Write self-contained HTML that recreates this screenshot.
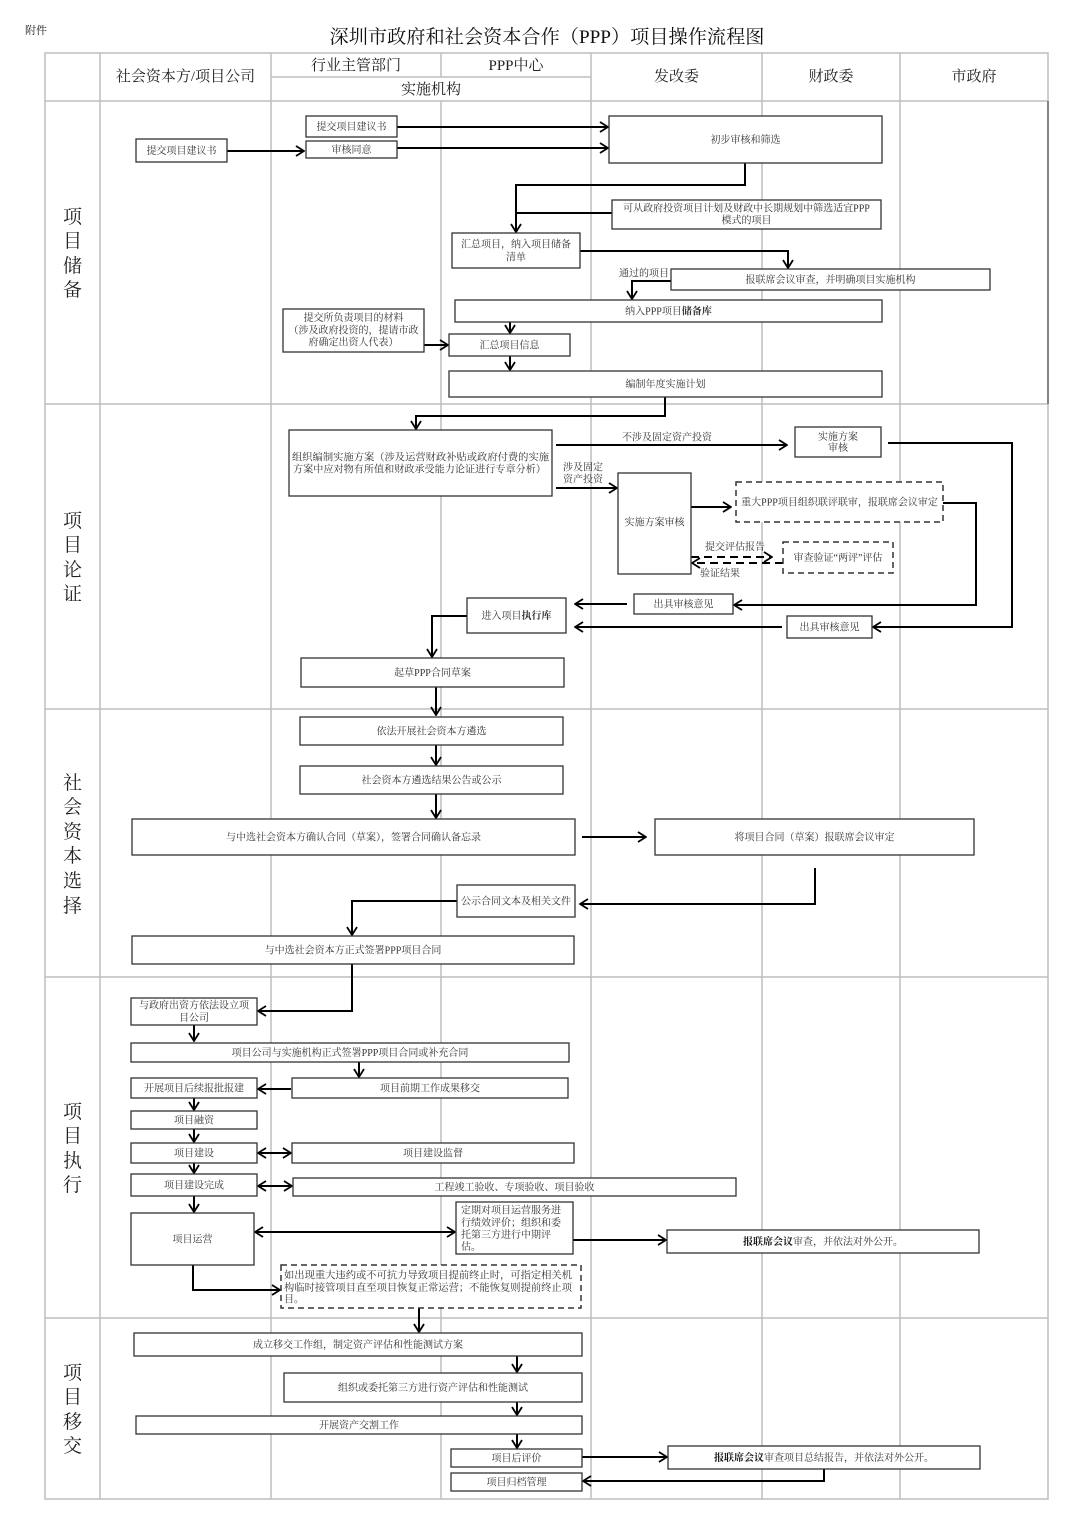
<!DOCTYPE html>
<html>
<head>
<meta charset="utf-8">
<style>
html,body{margin:0;padding:0;background:#fff;}
svg{display:block;}
.g{stroke:#bdbdbd;stroke-width:1.5;fill:none;}
.b{fill:#fff;stroke:#333;stroke-width:1.3;}
.d{fill:#fff;stroke:#333;stroke-width:1.5;stroke-dasharray:6 4;}
.c{fill:none;stroke:#000;stroke-width:2;marker-end:url(#a);}
.cd{fill:none;stroke:#000;stroke-width:2;stroke-dasharray:8 5;marker-end:url(#a);}
.c2{fill:none;stroke:#000;stroke-width:2;marker-end:url(#a);marker-start:url(#a);}
.l{fill:none;stroke:#000;stroke-width:2;}
text{font-family:"Liberation Serif","Noto Serif CJK SC",serif;}
.t{font-size:10px;fill:#333;}
.tm{font-size:10px;fill:#333;text-anchor:middle;}
.h{font-size:15px;fill:#222;text-anchor:middle;}
.v{font-size:19px;fill:#222;text-anchor:middle;}
</style>
</head>
<body>
<svg xmlns="http://www.w3.org/2000/svg" width="1080" height="1527" viewBox="0 0 1080 1527">
<defs>
<marker id="a" viewBox="0 0 10 12" refX="9" refY="6" markerWidth="10" markerHeight="12" markerUnits="userSpaceOnUse" orient="auto-start-reverse">
<path d="M1,1 L9,6 L1,11" fill="none" stroke="#000" stroke-width="1.8"/>
</marker>
</defs>

<!-- top text -->
<text x="25" y="34" font-size="11" fill="#222">附件</text>
<text x="547" y="43" font-size="19" fill="#111" text-anchor="middle" textLength="435" lengthAdjust="spacingAndGlyphs">深圳市政府和社会资本合作（PPP）项目操作流程图</text>

<!-- grid -->
<rect class="g" x="45" y="53" width="1003" height="1446"/>
<line class="g" x1="45" y1="101" x2="1048" y2="101"/>
<line class="g" x1="45" y1="404" x2="1048" y2="404"/>
<line class="g" x1="45" y1="709" x2="1048" y2="709"/>
<line class="g" x1="45" y1="977" x2="1048" y2="977"/>
<line class="g" x1="45" y1="1318" x2="1048" y2="1318"/>
<line class="g" x1="271" y1="77" x2="591" y2="77"/>
<line class="g" x1="100" y1="53" x2="100" y2="1499"/>
<line class="g" x1="271" y1="53" x2="271" y2="1499"/>
<line class="g" x1="441" y1="53" x2="441" y2="77"/>
<line class="g" x1="441" y1="101" x2="441" y2="1499"/>
<line class="g" x1="591" y1="53" x2="591" y2="1499"/>
<line class="g" x1="762" y1="53" x2="762" y2="1499"/>
<line class="g" x1="900" y1="53" x2="900" y2="1499"/>
<line x1="1048" y1="101" x2="1048" y2="404" stroke="#666" stroke-width="1.5"/>

<!-- header -->
<text class="h" x="185.5" y="81">社会资本方/项目公司</text>
<text class="h" x="356" y="70">行业主管部门</text>
<text class="h" x="516" y="70">PPP中心</text>
<text class="h" x="431" y="94">实施机构</text>
<text class="h" x="676.5" y="81">发改委</text>
<text class="h" x="831" y="81">财政委</text>
<text class="h" x="974" y="81">市政府</text>

<!-- left labels -->
<text class="v" x="72.5" y="223">项</text><text class="v" x="72.5" y="247">目</text><text class="v" x="72.5" y="272">储</text><text class="v" x="72.5" y="296">备</text>
<text class="v" x="72.5" y="527">项</text><text class="v" x="72.5" y="551">目</text><text class="v" x="72.5" y="576">论</text><text class="v" x="72.5" y="600">证</text>
<text class="v" x="72.5" y="789">社</text><text class="v" x="72.5" y="813">会</text><text class="v" x="72.5" y="838">资</text><text class="v" x="72.5" y="862">本</text><text class="v" x="72.5" y="887">选</text><text class="v" x="72.5" y="912">择</text>
<text class="v" x="72.5" y="1118">项</text><text class="v" x="72.5" y="1142">目</text><text class="v" x="72.5" y="1167">执</text><text class="v" x="72.5" y="1191">行</text>
<text class="v" x="72.5" y="1379">项</text><text class="v" x="72.5" y="1403">目</text><text class="v" x="72.5" y="1428">移</text><text class="v" x="72.5" y="1452">交</text>

<!-- ===== Section 1 ===== -->
<path class="c" d="M227,151 H304"/>
<path class="c" d="M397,127 H608"/>
<path class="c" d="M397,148 H608"/>
<path class="c" d="M745,163 V185 H516 V232"/>
<path class="l" d="M612,213 H516"/>
<path class="c" d="M580,251 H788 V268"/>
<path class="c" d="M671,281 H632 V299"/>
<path class="c" d="M510,322 V333"/>
<path class="c" d="M424,345 H448"/>
<path class="c" d="M510,356 V370"/>
<path class="c" d="M665,397 V416 H416 V429"/>

<rect class="b" x="136" y="139" width="91" height="23"/>
<text class="tm" x="181.5" y="154">提交项目建议书</text>
<rect class="b" x="306" y="116" width="91" height="21"/>
<text class="tm" x="351.5" y="130">提交项目建议书</text>
<rect class="b" x="306" y="141" width="91" height="17"/>
<text class="tm" x="351.5" y="153">审核同意</text>
<rect class="b" x="609" y="116" width="273" height="47"/>
<text class="tm" x="745.5" y="143">初步审核和筛选</text>
<rect class="b" x="612" y="200" width="269" height="29"/>
<text class="tm" x="746.5" y="211.5">可从政府投资项目计划及财政中长期规划中筛选适宜PPP</text>
<text class="tm" x="746.5" y="223.5">模式的项目</text>
<rect class="b" x="452" y="233" width="128" height="35"/>
<text class="tm" x="516" y="247.5">汇总项目，纳入项目储备</text>
<text class="tm" x="516" y="260.5">清单</text>
<rect class="b" x="671" y="269" width="319" height="21"/>
<text class="tm" x="830.5" y="283">报联席会议审查，并明确项目实施机构</text>
<text class="tm" x="644" y="276.5">通过的项目</text>
<rect class="b" x="455" y="300" width="427" height="22"/>
<text class="tm" x="668.5" y="314.5">纳入PPP项目<tspan font-weight="bold">储备库</tspan></text>
<rect class="b" x="283" y="309" width="141" height="43"/>
<text class="tm" x="353.5" y="321">提交所负责项目的材料</text>
<text class="tm" x="353.5" y="333.5">（涉及政府投资的，提请市政</text>
<text class="tm" x="353.5" y="345.5">府确定出资人代表）</text>
<rect class="b" x="449" y="334" width="121" height="22"/>
<text class="tm" x="509.5" y="348.5">汇总项目信息</text>
<rect class="b" x="449" y="371" width="433" height="26"/>
<text class="tm" x="665.5" y="387.5">编制年度实施计划</text>

<!-- ===== Section 2 ===== -->
<path class="c" d="M556,445 H787"/>
<path class="c" d="M888,443 H1012 V627 H873"/>
<path class="c" d="M556,488 H617"/>
<path class="c" d="M691,507 H731"/>
<path class="c" d="M943,503 H976 V605 H734"/>
<path class="cd" d="M691,557 H772"/>
<path class="cd" d="M783,563 H692"/>
<path class="c" d="M627,604 H575"/>
<path class="c" d="M782,627 H575"/>
<path class="c" d="M467,616 H432 V657"/>
<path class="c" d="M436,687 V715"/>

<rect class="b" x="289" y="430" width="263" height="66"/>
<text class="t" x="292" y="460.5" textLength="257" lengthAdjust="spacingAndGlyphs">组织编制实施方案（涉及运营财政补贴或政府付费的实施</text>
<text class="t" x="293" y="472.5" textLength="253" lengthAdjust="spacingAndGlyphs">方案中应对物有所值和财政承受能力论证进行专章分析）</text>
<text class="tm" x="667" y="440.5">不涉及固定资产投资</text>
<rect class="b" x="795" y="427" width="86" height="30"/>
<text class="tm" x="838" y="440">实施方案</text>
<text class="tm" x="838" y="451">审核</text>
<text class="t" x="563" y="470.5">涉及固定</text>
<text class="t" x="563" y="482.5">资产投资</text>
<rect class="b" x="618" y="473" width="73" height="101"/>
<text class="tm" x="654.5" y="525.5">实施方案审核</text>
<rect class="d" x="736" y="482" width="207" height="40"/>
<text class="tm" x="839.5" y="505.5">重大PPP项目组织联评联审，报联席会议审定</text>
<text class="tm" x="735" y="550">提交评估报告</text>
<text class="tm" x="720" y="576.5">验证结果</text>
<rect class="d" x="783" y="542" width="110" height="31"/>
<text class="tm" x="838" y="561">审查验证“两评”评估</text>
<rect class="b" x="634" y="594" width="99" height="20"/>
<text class="tm" x="683.5" y="607.5">出具审核意见</text>
<rect class="b" x="787" y="616" width="85" height="22"/>
<text class="tm" x="829.5" y="630.5">出具审核意见</text>
<rect class="b" x="467" y="598" width="99" height="35"/>
<text class="tm" x="516.5" y="619">进入项目<tspan font-weight="bold">执行库</tspan></text>
<rect class="b" x="301" y="658" width="263" height="29"/>
<text class="tm" x="432.5" y="676">起草PPP合同草案</text>

<!-- ===== Section 3 ===== -->
<path class="c" d="M436,745 V765"/>
<path class="c" d="M436,794 V818"/>
<path class="c" d="M582,837 H646"/>
<path class="c" d="M815,868 V904 H580"/>
<path class="c" d="M457,901 H352 V935"/>
<path class="c" d="M352,964 V1011 H258"/>

<rect class="b" x="300" y="717" width="263" height="28"/>
<text class="tm" x="431.5" y="734.5">依法开展社会资本方遴选</text>
<rect class="b" x="300" y="766" width="263" height="28"/>
<text class="tm" x="431.5" y="783.5">社会资本方遴选结果公告或公示</text>
<rect class="b" x="132" y="819" width="443" height="36"/>
<text class="tm" x="353.5" y="840.5">与中选社会资本方确认合同（草案），签署合同确认备忘录</text>
<rect class="b" x="655" y="819" width="319" height="36"/>
<text class="tm" x="814.5" y="840.5">将项目合同（草案）报联席会议审定</text>
<rect class="b" x="457" y="885" width="118" height="32"/>
<text class="tm" x="516" y="904.5">公示合同文本及相关文件</text>
<rect class="b" x="132" y="936" width="442" height="28"/>
<text class="tm" x="353" y="953.5">与中选社会资本方正式签署PPP项目合同</text>

<!-- ===== Section 4 ===== -->
<path class="c" d="M194,1025 V1041"/>
<path class="c" d="M359,1062 V1077"/>
<path class="c" d="M291,1089 H258"/>
<path class="c" d="M194,1098 V1110"/>
<path class="c" d="M194,1129 V1142"/>
<path class="c2" d="M258,1153 H291"/>
<path class="c" d="M194,1163 V1173"/>
<path class="c2" d="M258,1186 H292"/>
<path class="c" d="M194,1196 V1212"/>
<path class="c2" d="M255,1232 H455"/>
<path class="c" d="M573,1240 H666"/>
<path class="c" d="M193,1265 V1290 H280"/>
<path class="c" d="M419,1308 V1332"/>

<rect class="b" x="131" y="998" width="126" height="27"/>
<text class="tm" x="194" y="1008.5">与政府出资方依法设立项</text>
<text class="tm" x="194" y="1021">目公司</text>
<rect class="b" x="131" y="1043" width="438" height="19"/>
<text class="tm" x="350" y="1056">项目公司与实施机构正式签署PPP项目合同或补充合同</text>
<rect class="b" x="131" y="1078" width="126" height="20"/>
<text class="tm" x="194" y="1091.5">开展项目后续报批报建</text>
<rect class="b" x="292" y="1078" width="276" height="20"/>
<text class="tm" x="430" y="1091.5">项目前期工作成果移交</text>
<rect class="b" x="131" y="1111" width="126" height="18"/>
<text class="tm" x="194" y="1123.5">项目融资</text>
<rect class="b" x="131" y="1143" width="126" height="20"/>
<text class="tm" x="194" y="1156.5">项目建设</text>
<rect class="b" x="292" y="1143" width="282" height="20"/>
<text class="tm" x="433" y="1156.5">项目建设监督</text>
<rect class="b" x="131" y="1174" width="126" height="22"/>
<text class="tm" x="194" y="1188.5">项目建设完成</text>
<rect class="b" x="293" y="1178" width="443" height="18"/>
<text class="tm" x="514.5" y="1190.5">工程竣工验收、专项验收、项目验收</text>
<rect class="b" x="131" y="1213" width="123" height="52"/>
<text class="tm" x="192.5" y="1242.5">项目运营</text>
<rect class="b" x="456" y="1202" width="117" height="52"/>
<text class="t" x="461" y="1213.5">定期对项目运营服务进</text>
<text class="t" x="461" y="1225.8">行绩效评价；组织和委</text>
<text class="t" x="461" y="1237.8">托第三方进行中期评</text>
<text class="t" x="461" y="1250">估。</text>
<rect class="b" x="667" y="1230" width="312" height="23"/>
<text class="tm" x="823" y="1245"><tspan font-weight="bold" fill="#111">报联席会议</tspan>审查，并依法对外公开。</text>
<rect class="d" x="281" y="1265" width="300" height="43"/>
<text class="t" x="284" y="1278.5" textLength="288" lengthAdjust="spacingAndGlyphs">如出现重大违约或不可抗力导致项目提前终止时，可指定相关机</text>
<text class="t" x="284" y="1291" textLength="288" lengthAdjust="spacingAndGlyphs">构临时接管项目直至项目恢复正常运营；不能恢复则提前终止项</text>
<text class="t" x="284" y="1302.5">目。</text>

<!-- ===== Section 5 ===== -->
<path class="c" d="M517,1356 V1372"/>
<path class="c" d="M517,1402 V1415"/>
<path class="c" d="M517,1434 V1448"/>
<path class="c" d="M582,1457 H667"/>
<path class="c" d="M824,1469 V1481 H583"/>

<rect class="b" x="134" y="1333" width="448" height="23"/>
<text class="tm" x="358" y="1348">成立移交工作组，制定资产评估和性能测试方案</text>
<rect class="b" x="284" y="1373" width="298" height="29"/>
<text class="tm" x="433" y="1391">组织或委托第三方进行资产评估和性能测试</text>
<rect class="b" x="136" y="1416" width="446" height="18"/>
<text class="tm" x="359" y="1428.5">开展资产交割工作</text>
<rect class="b" x="451" y="1449" width="131" height="18"/>
<text class="tm" x="516.5" y="1461.5">项目后评价</text>
<rect class="b" x="668" y="1446" width="312" height="23"/>
<text class="tm" x="824" y="1461"><tspan font-weight="bold" fill="#111">报联席会议</tspan>审查项目总结报告，并依法对外公开。</text>
<rect class="b" x="451" y="1473" width="131" height="18"/>
<text class="tm" x="516.5" y="1485.5">项目归档管理</text>
</svg>
</body>
</html>
